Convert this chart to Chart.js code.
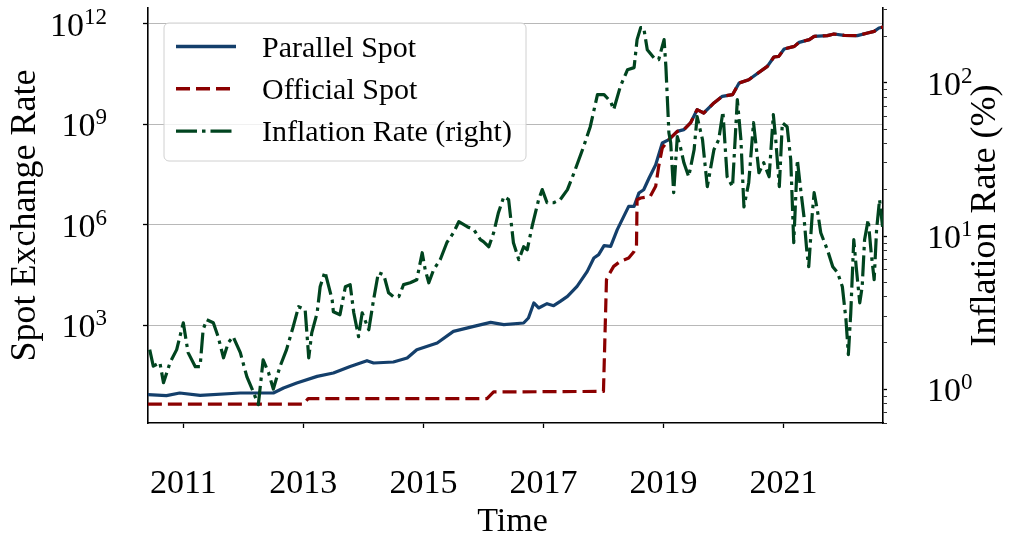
<!DOCTYPE html>
<html>
<head>
<meta charset="utf-8">
<title>Spot exchange rate vs inflation</title>
<script src="https://cdn.jsdelivr.net/npm/chart.js@4.4.1/dist/chart.umd.min.js"></script>
<style>
  html, body { margin: 0; padding: 0; background: #fff; }
  canvas { display: block; }
</style>
</head>
<body>
<canvas id="chart" width="1013" height="533"></canvas>
<script>
// ── datos (fecha en años decimales) ──
var parDates = [2010.41,2010.72,2010.94,2011.28,2011.95,2012.50,2012.67,2012.89,2013.23,2013.50,
  2013.78,2014.06,2014.17,2014.50,2014.73,2014.89,2015.23,2015.50,2015.84,2016.12,
  2016.34,2016.67,2016.75,2016.84,2016.92,2017.06,2017.17,2017.28,2017.40,2017.56,
  2017.73,2017.84,2017.92,2018.01,2018.12,2018.23,2018.42,2018.51,2018.59,2018.67,
  2018.76,2018.87,2018.98,2019.09,2019.23,2019.34,2019.45,2019.56,2019.67,2019.84,
  2019.98,2020.15,2020.26,2020.42,2020.73,2020.84,2020.92,2021.01,2021.18,2021.26,
  2021.43,2021.51,2021.73,2021.84,2022.01,2022.23,2022.40,2022.51,2022.59,2022.66];
var parValues = [8.28,7.73,9.31,7.88,9.31,9.31,13.1,18.5,29.2,36.9,
  58.0,86.0,73.3,78.6,103,183,291,646,911,1200,
  1024,1152,1625,4565,3236,4350,3788,5096,7190,14300,
  40200,101000,127000,236000,225000,710000,3.52e6,3.52e6,8.87e6,1.11e7,
  2.49e7,6.22e7,2.77e8,3.48e8,6.15e8,6.92e8,1.10e9,2.74e9,2.18e9,4.35e9,
  6.85e9,7.69e9,1.72e10,2.16e10,5.40e10,1.03e11,1.07e11,1.79e11,2.14e11,2.82e11,
  3.40e11,4.26e11,4.47e11,5.02e11,4.56e11,4.47e11,5.38e11,6.01e11,7.59e11,8.13e11];

var offDates = [2010.41,2013.00,2013.08,2016.06,2016.17,2018.00,2018.05,2018.09,2018.17,2018.28,
  2018.42,2018.51,2018.55,2018.56,2018.62,2018.78,2018.87,2018.92,2018.98,2019.09,
  2019.23,2019.34,2019.45,2019.56,2019.67,2019.84,2019.98,2020.15,2020.26,2020.42,
  2020.73,2020.84,2020.92,2021.01,2021.18,2021.26,2021.43,2021.51,2021.73,2021.84,
  2022.01,2022.23,2022.40,2022.51,2022.59,2022.66];
var offValues = [4.3,4.3,6.3,6.3,10,10.4,22700,32000,56700,80000,
  101000,159000,225000,5.59e6,6.28e6,7.02e6,1.40e7,5.53e7,1.96e8,3.48e8,
  6.15e8,6.92e8,1.10e9,2.74e9,2.18e9,4.35e9,6.85e9,7.69e9,1.72e10,2.16e10,
  5.40e10,1.03e11,1.07e11,1.79e11,2.14e11,2.82e11,3.40e11,4.26e11,4.47e11,5.02e11,
  4.56e11,4.47e11,5.38e11,6.01e11,7.59e11,8.13e11];

var inflDates = [2010.44,2010.50,2010.61,2010.67,2010.78,2010.89,2011.00,2011.08,2011.20,2011.28,
  2011.33,2011.39,2011.50,2011.58,2011.67,2011.75,2011.83,2011.95,2012.06,2012.17,
  2012.25,2012.33,2012.42,2012.50,2012.61,2012.72,2012.83,2012.92,2013.03,2013.09,
  2013.14,2013.23,2013.28,2013.36,2013.48,2013.50,2013.61,2013.70,2013.78,2013.84,
  2013.92,2013.98,2014.09,2014.17,2014.25,2014.34,2014.42,2014.50,2014.59,2014.67,
  2014.78,2014.89,2014.98,2015.03,2015.09,2015.17,2015.28,2015.39,2015.50,2015.59,
  2015.73,2015.84,2015.95,2016.00,2016.09,2016.17,2016.25,2016.34,2016.42,2016.50,
  2016.59,2016.67,2016.73,2016.81,2016.92,2016.98,2017.06,2017.17,2017.28,2017.40,
  2017.51,2017.67,2017.78,2017.90,2018.01,2018.12,2018.17,2018.28,2018.40,2018.51,
  2018.56,2018.62,2018.67,2018.73,2018.84,2018.92,2019.01,2019.04,2019.09,2019.12,
  2019.17,2019.23,2019.28,2019.34,2019.42,2019.51,2019.56,2019.65,2019.73,2019.84,
  2019.92,2019.99,2020.06,2020.15,2020.23,2020.29,2020.34,2020.42,2020.50,2020.55,
  2020.59,2020.67,2020.76,2020.83,2020.87,2020.93,2020.98,2021.06,2021.12,2021.17,
  2021.23,2021.28,2021.34,2021.39,2021.42,2021.48,2021.51,2021.57,2021.62,2021.73,
  2021.82,2021.90,2021.98,2022.04,2022.08,2022.12,2022.17,2022.21,2022.27,2022.31,
  2022.35,2022.41,2022.46,2022.51,2022.55,2022.60,2022.65];
var inflValues = [1.81,1.41,1.49,1.10,1.49,1.81,2.71,1.73,1.40,1.40,
  2.44,2.84,2.71,2.20,1.60,2.01,2.20,1.73,1.20,0.95,
  0.79,1.55,1.28,1.00,1.40,1.81,2.55,3.45,3.30,1.60,
  2.33,3.15,4.66,5.85,3.83,3.20,3.06,4.66,4.81,3.15,
  2.20,3.15,2.44,3.83,5.76,5.58,4.26,4.01,4.01,4.81,
  4.95,5.18,7.78,6.02,4.95,6.02,7.00,9.04,10.5,12.4,
  11.5,11.0,9.46,9.18,8.51,10.5,14.2,18.1,17.3,9.04,
  7.00,8.51,8.13,11.5,17.3,20.1,16.5,16.5,17.3,20.1,
  25.9,38.4,51.8,83.9,83.9,75.5,66.9,94.6,122,126,
  192,230,230,165,146,142,192,128,47.3,40.7,
  19.2,44.6,38.4,30.1,24.4,36.6,60.2,42.6,21.0,36.6,
  42.6,64.9,24.4,21.0,77.8,42.6,15.5,22.3,55.0,36.6,
  25.9,30.1,24.4,62.1,42.6,21.0,55.0,51.8,31.5,9.04,
  31.5,21.0,13.4,7.78,6.30,14.2,19.2,14.2,10.5,8.13,
  6.30,5.76,4.66,2.84,1.68,3.15,9.46,6.30,3.66,4.66,
  9.46,12.8,7.78,5.18,11.0,17.3,11.5];

var yearTicks = [2011, 2013, 2015, 2017, 2019, 2021];
var leftTicks = [1e3, 1e6, 1e9, 1e12];
var rightTicks = [1, 10, 100];

(function () {
  'use strict';
  var FONT = '"Liberation Serif", "DejaVu Serif", serif';
  var BLUE = '#143f6b', RED = '#8b0000', GREEN = '#00441f';

  var pts = function (xs, ys) { return xs.map(function (x, i) { return { x: x, y: ys[i] }; }); };

  // menores del eje derecho: 2..9 x 10^k
  var rightMinor = [];
  [0.1, 1, 10, 100].forEach(function (d) {
    for (var m = 1; m <= 9; m++) rightMinor.push(m * d);
  });

  var series = [
    { label: 'Inflation Rate (right)', data: pts(inflDates, inflValues), yAxisID: 'y2', borderColor: GREEN, dash: [21, 5, 3.5, 5], order: 0 },
    { label: 'Official Spot', data: pts(offDates, offValues), yAxisID: 'y', borderColor: RED, dash: [14, 6], order: 1 },
    { label: 'Parallel Spot', data: pts(parDates, parValues), yAxisID: 'y', borderColor: BLUE, dash: [], order: 2 }
  ];
  var legendOrder = ['Parallel Spot', 'Official Spot', 'Inflation Rate (right)'];

  // textos de ejes y leyenda (10^n con exponente)
  var axisText = {
    id: 'axisText',
    afterDraw: function (chart) {
      var ctx = chart.ctx, a = chart.chartArea;
      var sx = chart.scales.x, sl = chart.scales.y, sr = chart.scales.y2;
      ctx.save();
      ctx.fillStyle = '#000';
      ctx.textBaseline = 'alphabetic';

      leftTicks.forEach(function (v) {
        var py = sl.getPixelForValue(v), e = String(Math.round(Math.log10(v)));
        ctx.font = '23px ' + FONT; ctx.textAlign = 'right';
        var ew = ctx.measureText(e).width;
        ctx.fillText(e, a.left - 41, py);
        ctx.font = '34px ' + FONT;
        ctx.fillText('10', a.left - 41 - ew, py + 12);
      });

      rightTicks.forEach(function (v) {
        var py = sr.getPixelForValue(v), e = String(Math.round(Math.log10(v)));
        ctx.font = '34px ' + FONT; ctx.textAlign = 'left';
        var w = ctx.measureText('10').width;
        ctx.fillText('10', a.right + 44, py + 12);
        ctx.font = '23px ' + FONT;
        ctx.fillText(e, a.right + 44 + w, py);
      });

      ctx.font = '34px ' + FONT; ctx.textAlign = 'center';
      yearTicks.forEach(function (v) { ctx.fillText(String(v), sx.getPixelForValue(v), a.bottom + 70); });
      ctx.fillText('Time', (a.left + a.right) / 2 - 3, a.bottom + 108);

      ctx.font = '36px ' + FONT;
      ctx.save(); ctx.translate(35, (a.top + a.bottom) / 2); ctx.rotate(-Math.PI / 2);
      ctx.fillText('Spot Exchange Rate', 0, 0); ctx.restore();
      ctx.save(); ctx.translate(995, (a.top + a.bottom) / 2); ctx.rotate(-Math.PI / 2);
      ctx.fillText('Inflation Rate (%)', 0, 0); ctx.restore();

      // leyenda
      var bx = a.left + 16, by = a.top + 15, bw = 362, bh = 138;
      ctx.beginPath();
      ctx.roundRect(bx, by, bw, bh, 5);
      ctx.fillStyle = 'rgba(255,255,255,0.8)'; ctx.fill();
      ctx.strokeStyle = '#d0d0d0'; ctx.lineWidth = 1; ctx.stroke();
      ctx.font = '30px ' + FONT; ctx.textAlign = 'left';
      legendOrder.forEach(function (name, i) {
        var s = series.filter(function (d) { return d.label === name; })[0];
        var ly = by + 23.5 + i * 42.3;
        ctx.beginPath(); ctx.setLineDash(s.dash);
        ctx.strokeStyle = s.borderColor; ctx.lineWidth = 3.4; ctx.lineCap = 'butt';
        ctx.moveTo(bx + 12, ly); ctx.lineTo(bx + 72, ly); ctx.stroke();
        ctx.setLineDash([]);
        ctx.fillStyle = '#000';
        ctx.fillText(name, bx + 98, ly + 10);
      });
      ctx.restore();
    }
  };

  new Chart(document.getElementById('chart'), {
    type: 'line',
    data: {
      datasets: series.map(function (s) {
        return {
          label: s.label, data: s.data, yAxisID: s.yAxisID, order: s.order,
          borderColor: s.borderColor, borderWidth: 3.2, borderDash: s.dash,
          borderJoinStyle: 'round', pointRadius: 0, fill: false, tension: 0
        };
      })
    },
    options: {
      responsive: false, animation: false, devicePixelRatio: 1,
      layout: { padding: { top: 8, left: 0, right: 0, bottom: 0 } },
      plugins: { legend: { display: false }, tooltip: { enabled: false } },
      scales: {
        x: {
          type: 'linear', min: 2010.412, max: 2022.657, bounds: 'data',
          afterFit: function (s) { s.height = 110; },
          afterBuildTicks: function (s) { s.ticks = yearTicks.map(function (v) { return { value: v }; }); },
          ticks: { display: false },
          grid: { drawOnChartArea: false, drawTicks: true, tickLength: 5, tickColor: '#000', tickWidth: 1.3 },
          border: { color: '#000', width: 1.6 }
        },
        y: {
          type: 'logarithmic', position: 'left', min: 1.18, max: 3.0e12, bounds: 'data',
          afterFit: function (s) { s.width = 148; },
          afterBuildTicks: function (s) { s.ticks = leftTicks.map(function (v) { return { value: v }; }); },
          ticks: { display: false },
          grid: { color: '#b8b8b8', lineWidth: 1, drawTicks: true, tickLength: 5, tickColor: '#000', tickWidth: 1.3 },
          border: { color: '#000', width: 1.6 }
        },
        y2: {
          type: 'logarithmic', position: 'right', min: 0.6, max: 309, bounds: 'data',
          afterFit: function (s) { s.width = 130; },
          afterBuildTicks: function (s) {
            s.ticks = rightMinor.filter(function (v) { return v >= 0.6 && v <= 309; })
              .map(function (v) { return { value: v }; });
          },
          ticks: { display: false },
          grid: {
            drawOnChartArea: false, drawTicks: true, tickLength: 4, tickColor: '#000',
            tickWidth: function (c) { return rightTicks.indexOf(c.tick && c.tick.value) >= 0 ? 1.3 : 0.8; }
          },
          border: { color: '#000', width: 1.6 }
        }
      }
    },
    plugins: [axisText]
  });
})();
</script>
</body>
</html>
